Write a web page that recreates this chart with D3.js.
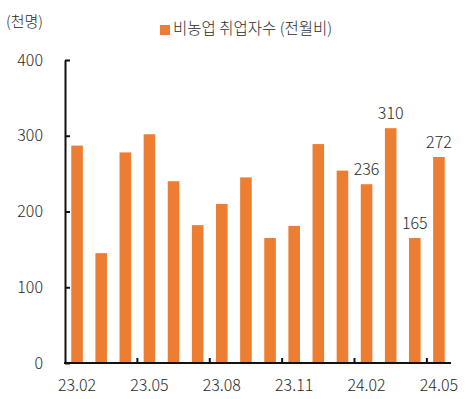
<!DOCTYPE html>
<html>
<head>
<meta charset="utf-8">
<script src="https://cdn.jsdelivr.net/npm/d3@7"></script>
<style>
  body { margin: 0; background: #fff; }
  text { font-family: "Noto Sans CJK KR", "Noto Sans", sans-serif; font-weight: 300; fill: #2a2a2a; }
</style>
</head>
<body>
<div id="chart"></div>
<script>
const months = ["23.02","23.03","23.04","23.05","23.06","23.07","23.08","23.09",
                "23.10","23.11","23.12","24.01","24.02","24.03","24.04","24.05"];
const jobs = [287, 145, 278, 302, 240, 182, 210, 245, 165, 181, 289, 254, 236, 310, 165, 272];
const labelled = ["24.02", "24.03", "24.04", "24.05"];
const yTicks = [0, 100, 200, 300, 400];
const xTickLabels = ["23.02", "23.05", "23.08", "23.11", "24.02", "24.05"];
const seriesName = "비농업 취업자수 (전월비)";
const unitLabel = "(천명)";

var width = 473,
    height = 399,
    margin = {top: 60, right: 22, bottom: 36, left: 65},
    barColor = "#ED7D31";

var svg = d3.select("#chart").append("svg")
    .attr("width", width)
    .attr("height", height);

var g = svg.append("g")
    .attr("transform", `translate(${margin.left},${margin.top})`);

var innerW = width - margin.left - margin.right,
    innerH = height - margin.top - margin.bottom;

var x = d3.scaleBand().domain(months).range([0, innerW]).paddingInner(0.52).paddingOuter(0.26);
var y = d3.scaleLinear().domain([0, 400]).range([innerH, 0]);

// bars
g.selectAll(".bar")
    .data(jobs)
    .enter().append("rect")
    .attr("class", "bar")
    .attr("x", (d, i) => x(months[i]))
    .attr("y", d => y(d))
    .attr("width", x.bandwidth())
    .attr("height", d => innerH - y(d))
    .style("fill", barColor);

// value labels for the last months
g.selectAll(".val")
    .data(jobs.map((v, i) => ({m: months[i], v: v})).filter(d => labelled.includes(d.m)))
    .enter().append("text")
    .attr("class", "val")
    .attr("x", d => x(d.m) + x.bandwidth() / 2)
    .attr("y", d => y(d.v) - 9)
    .attr("text-anchor", "middle")
    .style("font-size", "16px")
    .text(d => d.v);

// y axis
var yAxis = d3.axisLeft(y).tickValues(yTicks).tickSizeInner(-5).tickSizeOuter(0).tickPadding(22);
var ya = g.append("g").attr("class", "y axis").call(yAxis);
ya.select(".domain").attr("stroke", "#111").attr("stroke-width", 2);
ya.selectAll(".tick line").attr("stroke", "#111").attr("stroke-width", 2);
ya.selectAll(".tick text").style("font-size", "16px").attr("fill", "#2a2a2a");

// x axis: ticks between every third month
var xa = g.append("g").attr("class", "x axis").attr("transform", `translate(0,${innerH})`);
xa.append("line")
    .attr("x1", -1).attr("x2", innerW)
    .attr("stroke", "#111").attr("stroke-width", 2);
xa.selectAll(".sep")
    .data(months.filter((m, i) => i > 0 && i % 3 === 0))
    .enter().append("line")
    .attr("class", "sep")
    .attr("x1", d => x(d) - (x.step() - x.bandwidth()) / 2)
    .attr("x2", d => x(d) - (x.step() - x.bandwidth()) / 2)
    .attr("y1", 0).attr("y2", -5)
    .attr("stroke", "#111").attr("stroke-width", 2);
xa.selectAll(".xl")
    .data(xTickLabels)
    .enter().append("text")
    .attr("class", "xl")
    .attr("x", d => x(d) + x.bandwidth() / 2)
    .attr("y", 28)
    .attr("text-anchor", "middle")
    .style("font-size", "16px")
    .text(d => d);

// unit label
svg.append("text")
    .attr("x", 6).attr("y", 27)
    .style("font-size", "15px")
    .text(unitLabel);

// legend
var lg = svg.append("g").attr("transform", "translate(160,22)");
lg.append("rect").attr("width", 10).attr("height", 10).attr("y", 3).style("fill", barColor);
lg.append("text").attr("x", 13).attr("y", 12).style("font-size", "15.5px").text(seriesName);
</script>
</body>
</html>
